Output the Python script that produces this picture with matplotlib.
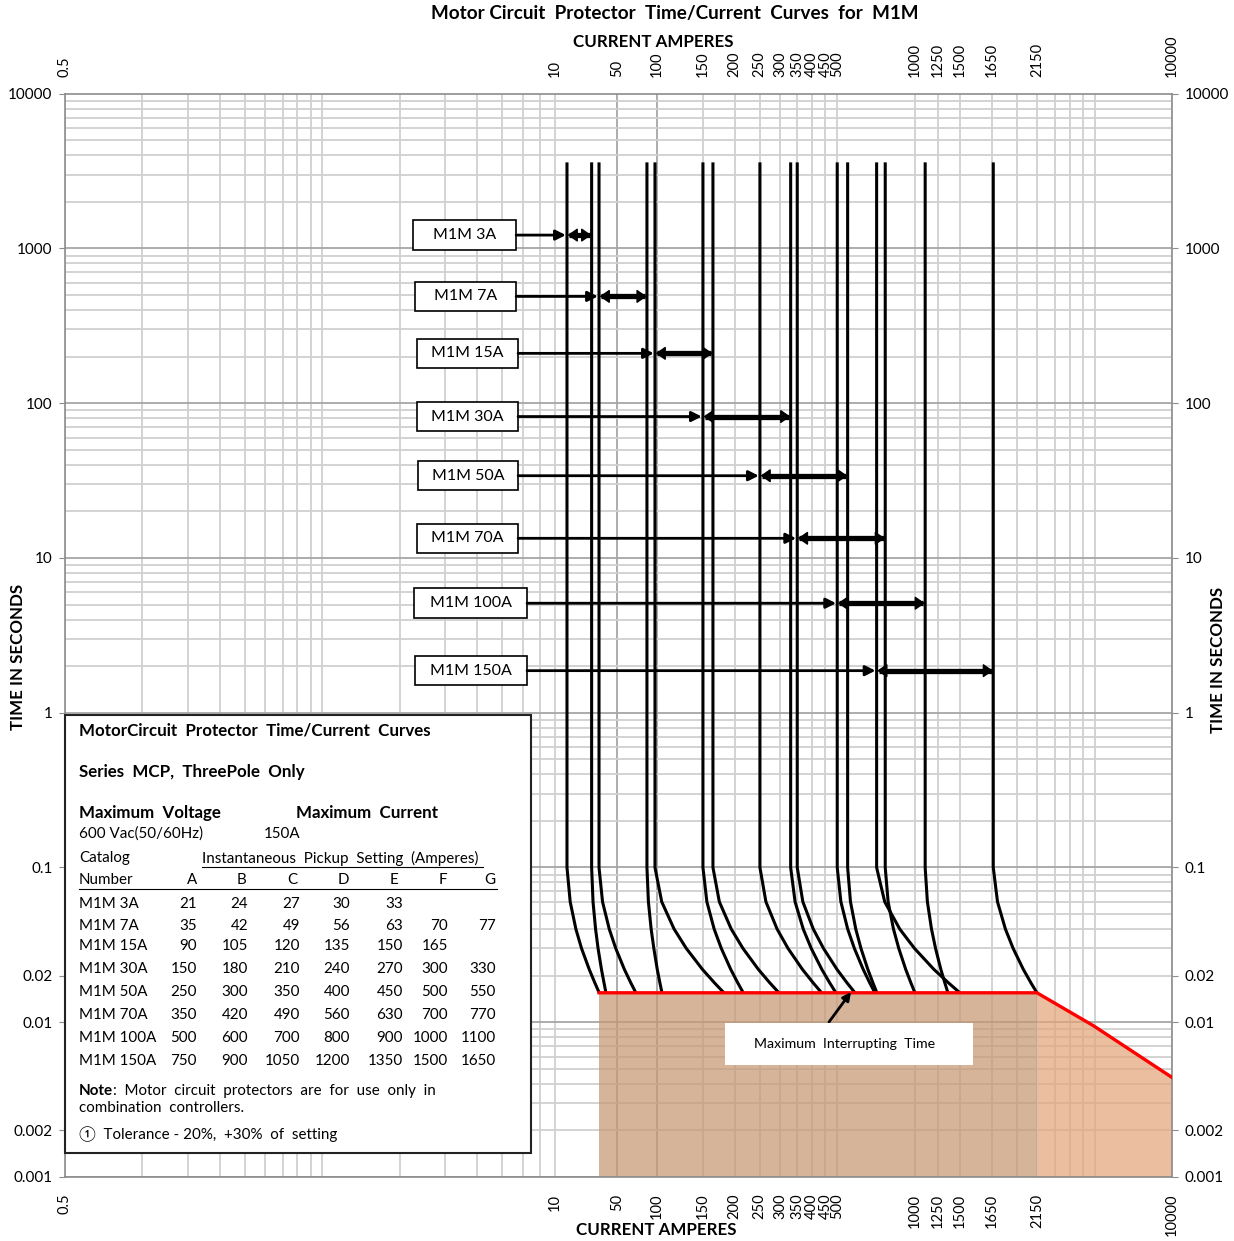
import matplotlib
matplotlib.use("Agg")
import matplotlib.pyplot as plt
from matplotlib.patches import Rectangle

plt.rcParams['font.family'] = ['Lato', 'Noto Sans CJK JP', 'DejaVu Sans']

# ---------------- data ----------------
breakers = ['M1M 3A', 'M1M 7A', 'M1M 15A', 'M1M 30A', 'M1M 50A', 'M1M 70A', 'M1M 100A', 'M1M 150A']
pickup_low = [44.6, 59.4, 98.0, 150.5, 250.6, 349.9, 500.4, 711.8]
pickup_high = [55.6, 91.2, 164.6, 329.9, 549.2, 768.8, 1099, 2021]
label_time = [1220, 490, 210, 82, 34, 13.4, 5.1, 1.87]
box_left = [11.2, 11.45, 11.66, 11.66, 11.76, 11.66, 11.35, 11.45]
box_right = [28.3, 28.3, 28.8, 28.8, 28.8, 28.8, 31.2, 31.2]

# trip curves: vertical from curve_top down to 0.1 s, then bending to the right
curve_top = 3600
knee_time = [0.1, 0.06, 0.04, 0.03, 0.022, 0.018, 0.0155]
knee_x = [
    [44.6, 45.9, 48.3, 50.8, 54.4, 57.2, 59.5],
    [55.6, 56.3, 57.6, 58.9, 60.7, 62.1, 63.2],
    [59.4, 61.3, 65.1, 69.0, 74.5, 78.9, 82.6],
    [91.2, 92.4, 94.7, 97.0, 100.0, 102.4, 104.3],
    [98.0, 104.1, 116.3, 129.7, 149.7, 166.7, 181.6],
    [150.5, 155.9, 166.4, 177.4, 192.9, 205.4, 215.9],
    [164.6, 174.3, 193.9, 215.3, 246.9, 273.5, 297.0],
    [250.6, 264.4, 292.2, 322.2, 366.2, 403.1, 435.2],
    [329.9, 343.2, 369.2, 396.6, 435.7, 467.5, 494.6],
    [349.9, 367.9, 403.9, 442.6, 498.9, 545.8, 586.5],
    [500.4, 517.1, 549.5, 583.4, 630.9, 668.9, 701.2],
    [549.2, 563.4, 590.7, 618.8, 657.7, 688.4, 713.8],
    [711.8, 765.3, 875.6, 998.9, 1187, 1352, 1499],
    [768.8, 789.0, 827.8, 867.8, 923.1, 966.8, 1003],
    [1099, 1121, 1163, 1206, 1264, 1310, 1347],
    [2021, 2099, 2253, 2414, 2643, 2829, 2987],
]

max_int_x = [59.4, 2987, 4950, 10000]
max_int_y = [0.0155, 0.0155, 0.0095, 0.0044]

x_tick_pos = [0.5, 40, 70, 100, 150, 200, 250, 300, 350, 400, 450, 500,
              1000, 1235, 1500, 2000, 3000, 10000]
x_tick_text = ['0.5', '10', '50', '100', '150', '200', '250', '300', '350', '400',
               '450', '500', '1000', '1250', '1500', '1650', '2150', '10000']
y_tick_pos = [10000, 1000, 100, 10, 1, 0.1, 0.02, 0.01, 0.002, 0.001]
y_tick_text = ['10000', '1000', '100', '10', '1', '0.1', '0.02', '0.01', '0.002', '0.001']

table_cols = ['A', 'B', 'C', 'D', 'E', 'F', 'G']
table_vals = [
    [21, 24, 27, 30, 33, None, None],
    [35, 42, 49, 56, 63, 70, 77],
    [90, 105, 120, 135, 150, 165, None],
    [150, 180, 210, 240, 270, 300, 330],
    [250, 300, 350, 400, 450, 500, 550],
    [350, 420, 490, 560, 630, 700, 770],
    [500, 600, 700, 800, 900, 1000, 1100],
    [750, 900, 1050, 1200, 1350, 1500, 1650],
]

# ---------------- figure ----------------
W, H = 1234, 1241
fig = plt.figure(figsize=(W / 100, H / 100), dpi=100)
ax = fig.add_axes([65 / W, 1 - 1177 / H, 1107 / W, 1083.3 / H])
ax.set_xscale('log')
ax.set_yscale('log')
ax.set_xlim(0.5, 10000)
ax.set_ylim(0.001, 10000)


def fx(px):
    return px / W


def fy(py):
    return 1 - py / H


# grid lines (drawn by hand, the scale is uneven in the middle)
grid_x = ([0.5 * k for k in range(1, 11)] + [5 * k for k in range(2, 9)] + [70]
          + [50 * k for k in range(2, 11)]
          + [1000, 1235, 1500, 2000, 2500, 3000, 3500, 4000, 4500, 5000, 10000])
for gx in grid_x:
    dark = gx in (70, 100)
    ax.axvline(gx, color='#a6a6a6' if dark else '#d0d0d0', lw=1.3, zorder=0.5)
for d in range(-3, 4):
    for k in range(1, 10):
        ax.axhline(k * 10.0 ** d, color='#a6a6a6' if k == 1 else '#d0d0d0',
                   lw=1.3, zorder=0.5)

# shaded max interrupting area
ax.fill_between(max_int_x[:2], 0.001, max_int_y[:2], color='#c69873', alpha=0.72,
                lw=0, zorder=1)
ax.fill_between(max_int_x[1:], 0.001, max_int_y[1:], color='#e3a57a', alpha=0.72,
                lw=0, zorder=1)

# trip curves
for kx in knee_x:
    xs = [kx[0]] + kx
    ys = [curve_top] + knee_time
    ax.plot(xs, ys, color='black', lw=2.2, zorder=3, solid_capstyle='butt',
            solid_joinstyle='round')

ax.plot(max_int_x, max_int_y, color='#ff0000', lw=2.4, zorder=4)

# label boxes and arrows
for name, t, lo, hi, bl, br in zip(breakers, label_time, pickup_low, pickup_high,
                                   box_left, box_right):
    ax.add_patch(Rectangle((bl, t / 1.245), br - bl, t * 1.245 - t / 1.245,
                           facecolor='white', edgecolor='black', lw=1.2, zorder=5))
    ax.text((bl * br) ** 0.5, t, name, ha='center', va='center', fontsize=11.5, zorder=6)
    ax.annotate('', xy=(lo * 0.99, t), xytext=(br, t),
                arrowprops=dict(arrowstyle='-|>,head_length=0.5,head_width=0.25',
                                lw=2, color='black', mutation_scale=12,
                                shrinkA=0, shrinkB=0), zorder=6)
    ax.plot([lo * 1.02, hi * 0.985], [t, t], color='black', lw=3.8,
            solid_capstyle='butt', zorder=6)
    ax.annotate('', xy=(hi * 0.997, t), xytext=(lo * 1.006, t),
                arrowprops=dict(arrowstyle='<|-|>,head_length=0.5,head_width=0.35',
                                lw=1, color='black', mutation_scale=12,
                                shrinkA=0, shrinkB=0), zorder=6)

# axis cosmetics
for sp in ax.spines.values():
    sp.set_color('#8c8c8c')
    sp.set_linewidth(1.2)
ax.set_xticks(x_tick_pos)
ax.set_xticklabels(x_tick_text, rotation=90, fontsize=10.5)
ax.set_xticks([], minor=True)
ax.set_yticks(y_tick_pos)
ax.set_yticklabels(y_tick_text, fontsize=11)
ax.set_yticks([], minor=True)
ax.tick_params(axis='x', length=0, pad=12, top=True, labeltop=True)
ax.tick_params(axis='y', length=4, color='#8c8c8c', pad=5, right=True, labelright=True)

fig.text(fx(675), fy(14), 'Motor Circuit  Protector  Time/Current  Curves  for  M1M',
         ha='center', va='center', fontsize=13.6, fontweight='bold')
fig.text(fx(653), fy(42), 'CURRENT AMPERES', ha='center', va='center', fontsize=12.2,
         fontweight='bold')
fig.text(fx(656), fy(1230), 'CURRENT AMPERES', ha='center', va='center', fontsize=12.2,
         fontweight='bold')
fig.text(fx(18), fy(657), 'TIME IN SECONDS', ha='center', va='center', rotation=90,
         fontsize=12.2, fontweight='bold')
fig.text(fx(1218), fy(660), 'TIME IN SECONDS', ha='center', va='center', rotation=90,
         fontsize=12.2, fontweight='bold')

# maximum interrupting time callout
fig.add_artist(Rectangle((fx(725), fy(1065)), fx(973) - fx(725), fy(1023) - fy(1065),
                         transform=fig.transFigure, facecolor='white', edgecolor='none',
                         zorder=5))
fig.text(fx(845), fy(1044), 'Maximum  Interrupting  Time', ha='center', va='center',
         fontsize=10.2, zorder=6)
ax.annotate('', xy=(fx(851), fy(992)), xytext=(fx(829), fy(1022)),
            xycoords='figure fraction', textcoords='figure fraction',
            arrowprops=dict(arrowstyle='-|>', lw=2, color='black', mutation_scale=12,
                            shrinkA=0, shrinkB=0), zorder=6)

# info box
fig.add_artist(Rectangle((fx(65), fy(1153)), fx(531) - fx(65), fy(715) - fy(1153),
                         transform=fig.transFigure, facecolor='white', edgecolor='#222222',
                         lw=1.5, zorder=5))
fs = 10.9
fb = 12.2
fig.text(fx(79), fy(731), 'MotorCircuit  Protector  Time/Current  Curves', fontsize=fb,
         fontweight='bold', va='center', zorder=6)
fig.text(fx(79), fy(772), 'Series  MCP,  ThreePole  Only', fontsize=fb,
         fontweight='bold', va='center', zorder=6)
fig.text(fx(79), fy(813), 'Maximum  Voltage', fontsize=fb, fontweight='bold',
         va='center', zorder=6)
fig.text(fx(296), fy(813), 'Maximum  Current', fontsize=fb, fontweight='bold',
         va='center', zorder=6)
fig.text(fx(79), fy(834), '600 Vac(50/60Hz)', fontsize=fs, va='center', zorder=6)
fig.text(fx(264), fy(834), '150A', fontsize=fs, va='center', zorder=6)
fig.text(fx(79), fy(858), 'Catalog', fontsize=fs, va='center', zorder=6)
fig.text(fx(202), fy(858), 'Instantaneous  Pickup  Setting  (Amperes)', fontsize=fs,
         va='center', zorder=6)
fig.add_artist(plt.Line2D([fx(202), fx(483)], [fy(867), fy(867)], color='black', lw=0.8,
                          zorder=6))
fig.text(fx(79), fy(880), 'Number', fontsize=fs, va='center', zorder=6)
col_center = [192, 242, 292, 343, 394, 443, 490]
col_right = [197, 248, 300, 350, 403, 448, 496]
for c, cx in zip(table_cols, col_center):
    fig.text(fx(cx), fy(880), c, fontsize=fs, ha='center', va='center', zorder=6)
fig.add_artist(plt.Line2D([fx(79), fx(497)], [fy(889), fy(889)], color='black', lw=0.8,
                          zorder=6))
row_y = [904, 926, 946, 969, 992, 1015, 1038, 1061]
for name, vals, ry in zip(breakers, table_vals, row_y):
    fig.text(fx(79), fy(ry), name, fontsize=fs, va='center', zorder=6)
    for v, cx in zip(vals, col_right):
        if v is not None:
            fig.text(fx(cx), fy(ry), str(v), fontsize=fs, ha='right', va='center', zorder=6)
note = fig.text(fx(79), fy(1091), 'Note', fontsize=fs, fontweight='bold', va='center',
                zorder=6)
bb = note.get_window_extent(renderer=fig.canvas.get_renderer())
fig.text(bb.x1 / W, fy(1091), ':  Motor  circuit  protectors  are  for  use  only  in',
         fontsize=fs, va='center', zorder=6)
fig.text(fx(79), fy(1108), 'combination  controllers.', fontsize=fs, va='center', zorder=6)
fig.text(fx(79), fy(1134), '\u2460  Tolerance - 20%,  +30%  of  setting', fontsize=fs,
         va='center', zorder=6)

fig.savefig('out.png', dpi=100)
